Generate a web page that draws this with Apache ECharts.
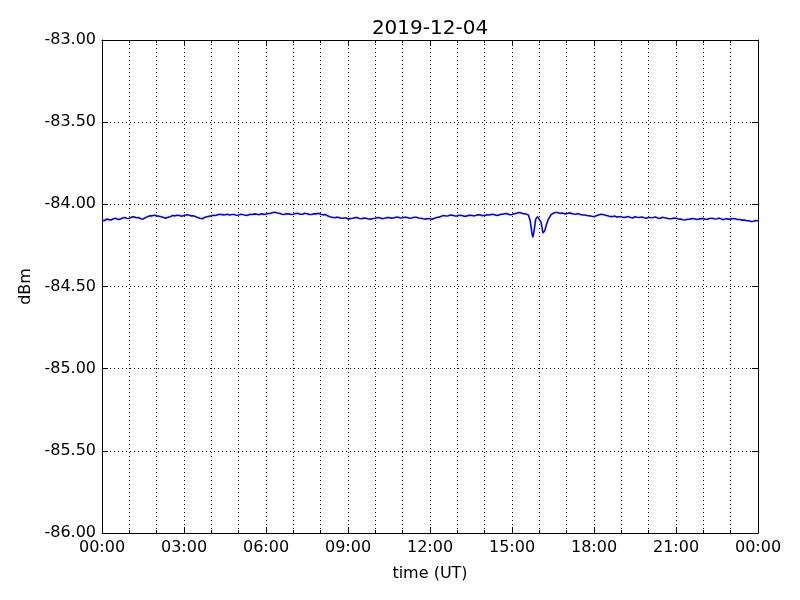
<!DOCTYPE html>
<html>
<head>
<meta charset="utf-8">
<script src="https://cdn.jsdelivr.net/npm/echarts@6/dist/echarts.min.js"></script>
<style>html,body{margin:0;padding:0;background:#fff}#c{width:800px;height:600px}</style>
</head>
<body>
<div id="c"></div>
<script>
const chartTitle = "2019-12-04";
const xAxisTitle = "time (UT)";
const yAxisTitle = "dBm";
const xTickLabels = ["00:00","03:00","06:00","09:00","12:00","15:00","18:00","21:00","00:00"];

// 5-minute readings, 00:00 .. 15:25
const valuesMorning = [
-84.095,-84.100,-84.090,-84.093,-84.095,-84.088,-84.085,-84.092,-84.090,-84.083,-84.080,-84.086,
-84.085,-84.078,-84.075,-84.082,-84.080,-84.088,-84.090,-84.082,-84.075,-84.070,-84.070,-84.066,
-84.070,-84.072,-84.075,-84.080,-84.085,-84.078,-84.075,-84.068,-84.070,-84.066,-84.068,-84.072,
-84.068,-84.064,-84.065,-84.070,-84.070,-84.074,-84.080,-84.085,-84.088,-84.080,-84.075,-84.072,
-84.070,-84.066,-84.068,-84.062,-84.060,-84.064,-84.063,-84.060,-84.065,-84.062,-84.062,-84.066,
-84.065,-84.060,-84.063,-84.066,-84.067,-84.061,-84.062,-84.058,-84.060,-84.063,-84.058,-84.061,
-84.060,-84.056,-84.055,-84.050,-84.048,-84.053,-84.055,-84.060,-84.062,-84.057,-84.058,-84.062,
-84.060,-84.056,-84.055,-84.060,-84.060,-84.054,-84.057,-84.061,-84.062,-84.058,-84.058,-84.055,
-84.060,-84.064,-84.062,-84.070,-84.075,-84.079,-84.082,-84.078,-84.080,-84.085,-84.085,-84.082,
-84.090,-84.087,-84.085,-84.081,-84.080,-84.086,-84.088,-84.084,-84.085,-84.089,-84.090,-84.086,
-84.085,-84.080,-84.082,-84.087,-84.085,-84.081,-84.080,-84.084,-84.083,-84.079,-84.078,-84.083,
-84.082,-84.078,-84.080,-84.085,-84.083,-84.079,-84.079,-84.083,-84.085,-84.088,-84.090,-84.086,
-84.088,-84.090,-84.085,-84.080,-84.078,-84.072,-84.068,-84.071,-84.070,-84.065,-84.067,-84.071,
-84.070,-84.066,-84.068,-84.073,-84.072,-84.067,-84.066,-84.070,-84.068,-84.063,-84.064,-84.069,
-84.068,-84.063,-84.065,-84.061,-84.062,-84.067,-84.066,-84.061,-84.060,-84.056,-84.058,-84.063,
-84.062,-84.057,-84.055,-84.050,-84.052,-84.057
];
// dense readings around the dips, 15:30 .. 16:25
const dipTimes = ["15:30","15:36","15:40","15:44","15:46","15:48","15:52","15:56",
                  "16:00","16:04","16:08","16:12","16:16","16:20","16:25"];
const dipValues = [-84.058,-84.065,-84.100,-84.180,-84.200,-84.170,-84.090,-84.075,
                   -84.075,-84.110,-84.175,-84.160,-84.120,-84.090,-84.065];
// 5-minute readings, 16:30 .. 24:00
const valuesEvening = [
-84.055,-84.050,-84.050,-84.055,-84.053,-84.058,
-84.057,-84.052,-84.055,-84.059,-84.060,-84.056,-84.062,-84.064,-84.065,-84.068,-84.070,-84.073,
-84.075,-84.070,-84.065,-84.060,-84.062,-84.066,-84.070,-84.074,-84.075,-84.071,-84.078,-84.076,
-84.075,-84.080,-84.078,-84.074,-84.080,-84.083,-84.076,-84.079,-84.080,-84.077,-84.082,-84.085,
-84.078,-84.082,-84.080,-84.077,-84.083,-84.086,-84.079,-84.082,-84.085,-84.088,-84.088,-84.084,
-84.085,-84.089,-84.090,-84.094,-84.095,-84.091,-84.090,-84.086,-84.088,-84.092,-84.090,-84.087,
-84.087,-84.091,-84.090,-84.085,-84.085,-84.089,-84.088,-84.084,-84.090,-84.093,-84.087,-84.090,
-84.090,-84.086,-84.088,-84.092,-84.092,-84.096,-84.095,-84.100,-84.100,-84.104,-84.103,-84.099,
-84.100
];

function toHours(t){const p=t.split(":");return +p[0]+(+p[1])/60;}
const seriesData = [];
valuesMorning.forEach((v,i)=>seriesData.push([i*5/60, v]));
dipTimes.forEach((t,i)=>seriesData.push([toHours(t), dipValues[i]]));
valuesEvening.forEach((v,i)=>seriesData.push([16.5 + i*5/60, v]));

const FONT = "DejaVu Sans";
const gridDotted = {show:true, lineStyle:{color:"#000", type:[1,3], width:1}};
const chart = echarts.init(document.getElementById("c"), null, {renderer:"canvas"});
const xCommon = {
  type:"value", min:0, max:24, interval:3,
  axisLine:{show:true, onZero:false, lineStyle:{color:"#000", width:1}},
  axisTick:{show:true, inside:true, length:6, lineStyle:{color:"#000"}},
  minorTick:{show:true, splitNumber:3, length:3, lineStyle:{color:"#000"}}
};
const yCommon = {
  type:"value", min:-86, max:-83, interval:0.5,
  axisLine:{show:true, onZero:false, lineStyle:{color:"#000", width:1}},
  axisTick:{show:true, inside:true, length:6, lineStyle:{color:"#000"}}
};
chart.setOption({
  animation:false,
  backgroundColor:"#fff",
  title:{text:chartTitle, left:425, textAlign:"center", top:14, textStyle:{fontFamily:FONT, fontSize:20, fontWeight:"normal", color:"#000"}},
  grid:{left:102, right:42, top:40, bottom:67, containLabel:false},
  xAxis:[
    Object.assign({}, xCommon, {
      position:"bottom",
      name:xAxisTitle, nameLocation:"middle", nameGap:33,
      nameTextStyle:{fontFamily:FONT, fontSize:16, color:"#000"},
      axisLabel:{margin:7, fontFamily:FONT, fontSize:16, color:"#000",
        formatter:(v)=>xTickLabels[Math.round(v/3)]},
      splitLine:gridDotted,
      minorSplitLine:gridDotted
    }),
    Object.assign({}, xCommon, {position:"top", axisLabel:{show:false}, splitLine:{show:false}})
  ],
  yAxis:[
    Object.assign({}, yCommon, {
      position:"left",
      name:yAxisTitle, nameLocation:"middle", nameGap:66, nameRotate:90,
      nameTextStyle:{fontFamily:FONT, fontSize:16, color:"#000"},
      axisLabel:{margin:6, fontFamily:FONT, fontSize:16, color:"#000", formatter:(v)=>v.toFixed(2)},
      splitLine:gridDotted
    }),
    Object.assign({}, yCommon, {position:"right", axisLabel:{show:false}, splitLine:{show:false}})
  ],
  series:[{
    type:"line", xAxisIndex:0, yAxisIndex:0, data:seriesData,
    showSymbol:false, symbol:"none",
    lineStyle:{color:"#0000ff", width:1.6},
    z:5
  }]
});
</script>
</body>
</html>
